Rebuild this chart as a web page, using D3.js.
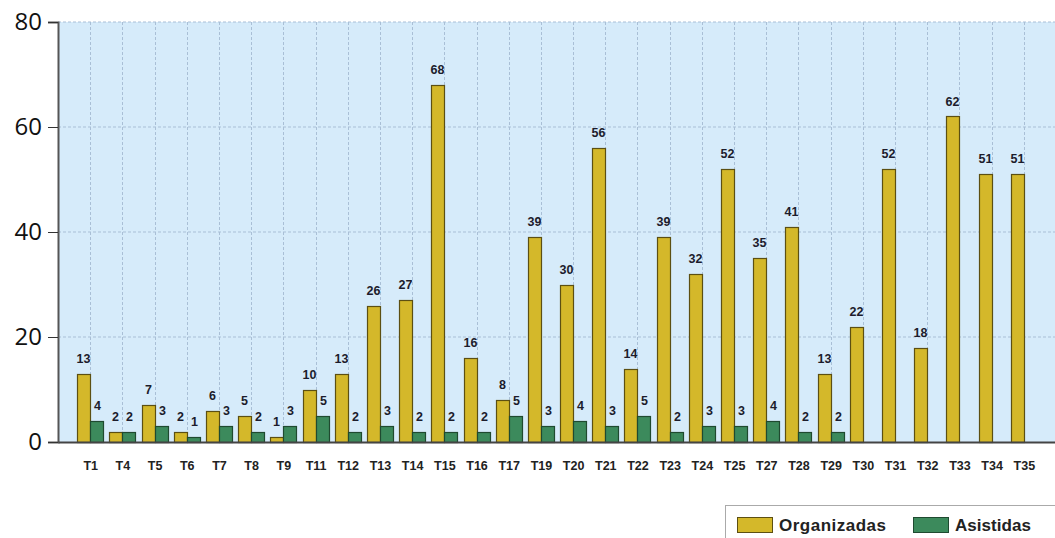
<!DOCTYPE html>
<html><head><meta charset="utf-8">
<script src="https://cdn.jsdelivr.net/npm/d3@7"></script>
<style>body{margin:0;background:#fff}svg{display:block}</style>
</head><body>
<svg id="c" width="1055" height="538"></svg>
<script>
const categories = ["T1","T4","T5","T6","T7","T8","T9","T11","T12","T13","T14","T15","T16","T17","T19","T20","T21","T22","T23","T24","T25","T27","T28","T29","T30","T31","T32","T33","T34","T35"];
const organizadas = [13,2,7,2,6,5,1,10,13,26,27,68,16,8,39,30,56,14,39,32,52,35,41,13,22,52,18,62,51,51];
const asistidas = [4,2,3,1,3,2,3,5,2,3,2,2,2,5,3,4,3,5,2,3,3,4,2,2,null,null,null,null,null,null];
const yTicks = [0,20,40,60,80];
const seriesNames = ["Organizadas","Asistidas"];
const colors = ["#d4b82a","#3c8a5c"];
const strokes = ["#5c4f12","#1f4a30"];

const svg = d3.select("#c");
const L = 58, R = 1056, T = 22, B = 442;
const x = d3.scalePoint().domain(categories).range([L, R]).padding(1);
const y = d3.scaleLinear().domain([0, 80]).range([B, T]);
const bw = 13;

svg.append("rect").attr("x", L).attr("y", T).attr("width", R - L).attr("height", B - T).attr("fill", "#d6ebfa");

// grid
svg.append("g").selectAll("line").data(yTicks.filter(d => d > 0)).join("line")
  .attr("x1", L).attr("x2", R).attr("y1", d => y(d)).attr("y2", d => y(d))
  .attr("stroke", "#a9bfd6").attr("stroke-dasharray", "3,2").attr("stroke-width", 1);
svg.append("g").selectAll("line").data(categories).join("line")
  .attr("x1", d => Math.round(x(d)) + 0.5).attr("x2", d => Math.round(x(d)) + 0.5).attr("y1", T).attr("y2", B)
  .attr("stroke", "#a9bfd6").attr("stroke-dasharray", "3,2").attr("stroke-width", 1);

// bars
const data = categories.map((c, i) => ({c, v: [organizadas[i], asistidas[i]]}));
const g = svg.append("g");
[0, 1].forEach(s => {
  const sel = data.filter(d => d.v[s] != null);
  g.selectAll(".b" + s).data(sel).join("rect")
    .attr("x", d => Math.round(x(d.c)) - bw + s * bw + 0.5)
    .attr("y", d => Math.round(y(d.v[s])) + 0.5)
    .attr("width", bw)
    .attr("height", d => B - Math.round(y(d.v[s])))
    .attr("fill", colors[s]).attr("stroke", strokes[s]).attr("stroke-width", 1.2);
  g.selectAll(".t" + s).data(sel).join("text")
    .attr("x", d => Math.round(x(d.c)) - bw / 2 + s * bw + (s ? 1 : 0))
    .attr("y", d => y(d.v[s]) - 11)
    .attr("text-anchor", "middle")
    .attr("font-family", "Liberation Sans, Arial, sans-serif").attr("font-weight", "bold").attr("font-size", 12.5)
    .attr("fill", "#1c1c2c").text(d => d.v[s]);
});

// axes
const ya = svg.append("g").attr("transform", `translate(${L},0)`)
  .call(d3.axisLeft(y).tickValues(yTicks).tickSize(10).tickPadding(6));
ya.select(".domain").attr("stroke", "#555").attr("stroke-width", 2);
ya.selectAll(".tick line").attr("stroke", "#333");
ya.selectAll("text").attr("font-family", "Open Sans, Arial, sans-serif").attr("font-size", 24).attr("fill", "#111");

const xa = svg.append("g").attr("transform", `translate(0,${B})`)
  .call(d3.axisBottom(x).tickSize(0).tickPadding(19));
xa.select(".domain").attr("stroke", "#444").attr("stroke-width", 2);
xa.selectAll("text").attr("font-family", "Liberation Sans, Arial, sans-serif").attr("font-weight", "bold")
  .attr("font-size", 12.5).attr("fill", "#222");

// legend
const lg = svg.append("g");
lg.append("rect").attr("x", 725.5).attr("y", 505.5).attr("width", 340).attr("height", 40)
  .attr("fill", "#fff").attr("stroke", "#aaa");
const lx = [737, 913];
seriesNames.forEach((n, i) => {
  lg.append("rect").attr("x", lx[i] + 0.5).attr("y", 517.5).attr("width", 35).attr("height", 15)
    .attr("fill", colors[i]).attr("stroke", strokes[i]);
  lg.append("text").attr("x", lx[i] + 42).attr("y", 531)
    .attr("font-family", "Liberation Sans, Arial, sans-serif").attr("font-weight", "bold").attr("font-size", 17)
    .attr("textLength", i ? 76 : 107).attr("fill", "#222").text(n);
});
</script>
</body></html>
